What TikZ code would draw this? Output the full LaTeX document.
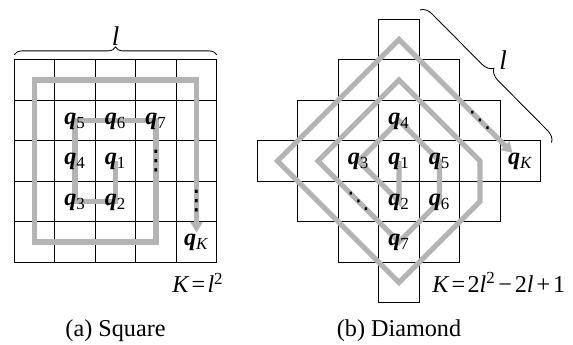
\documentclass[tikz,border=0pt]{standalone}
\usepackage{fontspec}
\setmainfont{Liberation Serif}
\newfontfamily\dotfont{DejaVu Sans}
\usetikzlibrary{arrows.meta,calc,decorations.pathreplacing}
\definecolor{spiralgray}{RGB}{180,180,180}
\newcommand{\qlab}[1]{{\bfseries\itshape q}\textsubscript{#1}}

\begin{document}
\begin{tikzpicture}[
      cell/.style={draw=black, line width=0.7pt},
      spiral/.style={draw=spiralgray, line width=3.6pt, -{Triangle[length=7.5pt, width=8.4pt]}},
      lab/.style={font=\fontsize{17}{20}\selectfont, inner sep=0pt, anchor=base, yshift=-2.8pt},
      vdots/.style={font=\dotfont\fontsize{19}{22}\selectfont, inner sep=0pt},
      ddots/.style={font=\dotfont\fontsize{16}{19}\selectfont, inner sep=0pt},
      txt/.style={font=\fontsize{17}{20}\selectfont, inner sep=0pt},
      bracket/.style={decorate, line width=0.6pt}
    ]
      \useasboundingbox (0,0) rectangle (14.148,8.494);

      \begin{scope}[shift={(2.852,4.519)}]
        \foreach \a in {1,...,5} {
          \foreach \b in {1,...,5} {
            \coordinate (sq-\a-\b) at (\a-3,\b-3);
            \draw[cell] (\a-3.5,\b-3.5) rectangle ++(1,1);
          }
        }
      \end{scope}

      \begin{scope}[shift={(9.852,4.519)}]
        \foreach \a in {0,...,6} {
          \foreach \b in {0,...,6} {
            \coordinate (dm-\a-\b) at (\a-3,\b-3);
            \pgfmathtruncatemacro{\inside}{abs(\a-3)+abs(\b-3)<=3}
            \ifnum\inside=1
              \draw[cell] (\a-3.5,\b-3.5) rectangle ++(1,1);
            \fi
          }
        }
      \end{scope}

      \coordinate (sq-end) at ($(sq-5-1)+(0,0.23)$);
      \coordinate (dm-end) at ($(dm-3-6)!0.935!(dm-6-3)$);

      \draw[spiral] (sq-3-3) -- (sq-3-2) -- (sq-2-2) -- (sq-2-4) -- (sq-4-4) -- (sq-4-1)
        -- (sq-1-1) -- (sq-1-5) -- (sq-5-5) -- (sq-end);
      \draw[spiral] (dm-3-3) -- (dm-3-2) -- (dm-2-3) -- (dm-3-4) -- (dm-4-3) -- (dm-4-2)
        -- (dm-3-1) -- (dm-1-3) -- (dm-3-5) -- (dm-5-3) -- (dm-5-2) -- (dm-3-0)
        -- (dm-0-3) -- (dm-3-6) -- (dm-end);

      \node[lab] (sqq1) at (sq-3-3) {\qlab{1}};
      \node[lab] (sqq2) at (sq-3-2) {\qlab{2}};
      \node[lab] (sqq3) at (sq-2-2) {\qlab{3}};
      \node[lab] (sqq4) at (sq-2-3) {\qlab{4}};
      \node[lab] (sqq5) at (sq-2-4) {\qlab{5}};
      \node[lab] (sqq6) at (sq-3-4) {\qlab{6}};
      \node[lab] (sqq7) at (sq-4-4) {\qlab{7}};
      \node[lab] (sqqK) at (sq-5-1) {\qlab{\textit{K}}};
      \node[vdots] (sqdots1) at (sq-4-3) {⋮};
      \node[vdots] (sqdots2) at (sq-5-2) {⋮};

      \node[lab] (dmq1) at (dm-3-3) {\qlab{1}};
      \node[lab] (dmq2) at (dm-3-2) {\qlab{2}};
      \node[lab] (dmq3) at (dm-2-3) {\qlab{3}};
      \node[lab] (dmq4) at (dm-3-4) {\qlab{4}};
      \node[lab] (dmq5) at (dm-4-3) {\qlab{5}};
      \node[lab] (dmq6) at (dm-4-2) {\qlab{6}};
      \node[lab] (dmq7) at (dm-3-1) {\qlab{7}};
      \node[lab] (dmqK) at (dm-6-3) {\qlab{\textit{K}}};
      \node[ddots] (dmdots1) at (dm-2-2) {⋱};
      \node[ddots] (dmdots2) at (dm-5-4) {⋱};

      \coordinate (sqbr-a) at (0.352,7.14);
      \coordinate (sqbr-b) at (5.352,7.14);
      \draw[bracket, decoration={brace, amplitude=5.5pt}] (sqbr-a) -- (sqbr-b);
      \node[txt, font=\fontsize{19}{22}\selectfont, anchor=south, inner sep=1pt] (sqlen) at (2.852,7.33) {\textit{l}};

      \coordinate (dmbr-a) at ($(dm-3-6)+(0.52,0.73)$);
      \coordinate (dmbr-b) at ($(dm-6-3)+(0.78,0.44)$);
      \draw[bracket, decoration={brace, amplitude=8pt}] (dmbr-a) -- (dmbr-b);
      \node[txt, font=\fontsize{19}{22}\selectfont] (dmlen) at (12.42,7.0) {\textit{l}};

      \node[txt, anchor=base west] (sqform) at (4.25,1.26) {\textit{K}\kern1.5pt=\kern1.5pt\textit{l}\textsuperscript{2}};
      \node[txt, anchor=base west] (dmform) at (10.67,1.28) {\textit{K}\kern1.5pt=\kern1.5pt2\textit{l}\textsuperscript{2}\kern2pt−\kern2pt2\textit{l}\kern2pt+\kern2pt1};

      \node[txt, anchor=base] (sqcap) at (2.852,0.18) {(a) Square};
      \node[txt, anchor=base] (dmcap) at (9.852,0.18) {(b) Diamond};
    \end{tikzpicture}
\end{document}
